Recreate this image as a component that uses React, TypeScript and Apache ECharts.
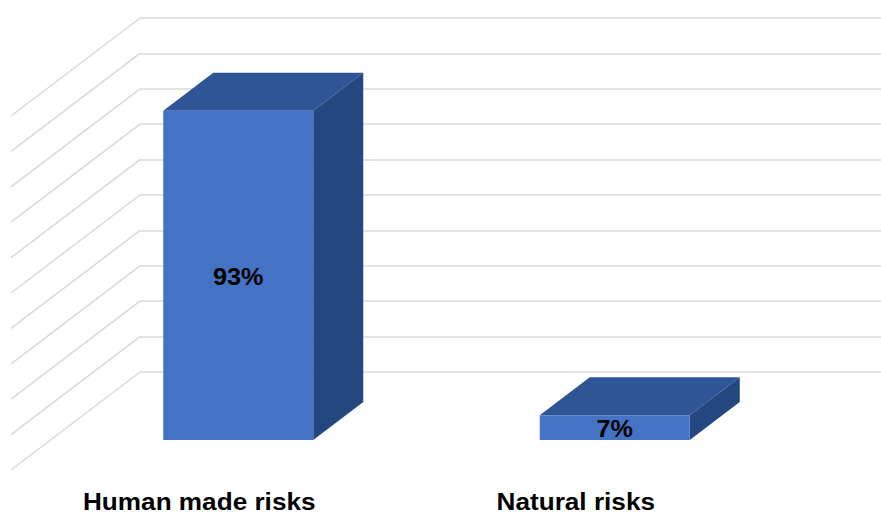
import React, { useEffect, useRef } from "react";
import * as echarts from "echarts";

// Share of risks by origin (percent)
const categories = ["Human made risks", "Natural risks"];
const shares = [93, 7];
const gridTicks = [0, 10, 20, 30, 40, 50, 60, 70, 80, 90, 100];

const FONT = "'Liberation Sans', Arial, sans-serif";
const FRONT = "#4472C4";
const TOP = "#2F5597";
const SIDE = "#25477F";
const GRID_LINE = "#d9d9d9";

// Pseudo-3D projection: bar front plane offset from the back wall,
// bar depth, and the floor's front edge offset.
const BAR_W = 150;
const FRONT_DX = -90;
const FRONT_DY = 68;
const DEPTH_DX = 50;
const DEPTH_DY = -38;
const WALL_DX = -129;
const WALL_DY = 98;

export default function App() {
  const ref = useRef<HTMLDivElement>(null);

  useEffect(() => {
    if (!ref.current) return;
    const chart = echarts.init(ref.current, null, { renderer: "svg" });

    const barItem = (params: any, api: any) => {
      const cat = api.value(0);
      const v = api.value(1);
      const base = api.coord([cat, 0]);
      const topPt = api.coord([cat, v]);
      const x0 = base[0] - BAR_W / 2 + FRONT_DX;
      const x1 = x0 + BAR_W;
      const yb = base[1] + FRONT_DY;
      const yt = topPt[1] + FRONT_DY;
      const label = categories[params.dataIndex];
      return {
        type: "group",
        children: [
          {
            type: "polygon",
            shape: {
              points: [
                [x0, yt],
                [x1, yt],
                [x1 + DEPTH_DX, yt + DEPTH_DY],
                [x0 + DEPTH_DX, yt + DEPTH_DY],
              ],
            },
            style: { fill: TOP },
          },
          {
            type: "polygon",
            shape: {
              points: [
                [x1, yt],
                [x1 + DEPTH_DX, yt + DEPTH_DY],
                [x1 + DEPTH_DX, yb + DEPTH_DY],
                [x1, yb],
              ],
            },
            style: { fill: SIDE },
          },
          {
            type: "rect",
            shape: { x: x0, y: yt, width: BAR_W, height: yb - yt },
            style: { fill: FRONT },
          },
          {
            type: "text",
            x: x0 + BAR_W / 2,
            y: (yt + yb) / 2 + 1,
            scaleX: 1.05,
            style: {
              text: v + "%",
              fill: "#000",
              font: `bold 24px ${FONT}`,
              align: "center",
              verticalAlign: "middle",
            },
          },
          {
            type: "text",
            x: base[0] + WALL_DX,
            y: base[1] + WALL_DY + 31,
            scaleX: 1.09,
            style: {
              text: label,
              fill: "#000",
              font: `bold 24px ${FONT}`,
              align: "center",
              verticalAlign: "middle",
            },
          },
        ],
      };
    };

    const wallItem = (params: any, api: any) => {
      const v = api.value(0);
      const y = api.coord([0, v])[1];
      const x = params.coordSys.x;
      return {
        type: "line",
        shape: { x1: x, y1: y, x2: x + WALL_DX, y2: y + WALL_DY },
        style: { stroke: GRID_LINE, lineWidth: 1.5 },
      };
    };

    chart.setOption({
      animation: false,
      backgroundColor: "#ffffff",
      grid: { left: 140, right: 0, top: 18, bottom: 142 },
      xAxis: {
        type: "category",
        data: categories,
        axisLine: { show: false },
        axisTick: { show: false },
        axisLabel: { show: false },
      },
      yAxis: {
        type: "value",
        min: 0,
        max: 100,
        interval: 10,
        axisLine: { show: false },
        axisTick: { show: false },
        axisLabel: { show: false },
        splitLine: { lineStyle: { color: GRID_LINE, width: 1.5 } },
      },
      series: [
        {
          type: "custom",
          renderItem: wallItem,
          data: gridTicks.map((t) => [t]),
          encode: { y: 0 },
          silent: true,
        },
        {
          type: "custom",
          renderItem: barItem,
          data: shares.map((s, i) => [i, s]),
          encode: { x: 0, y: 1 },
          silent: true,
        },
      ],
    });

    return () => chart.dispose();
  }, []);

  // The back wall runs on past the right edge of the visible frame.
  return (
    <div
      style={{
        position: "fixed",
        left: 0,
        top: 0,
        width: 881,
        height: 514,
        overflow: "hidden",
        background: "#fff",
      }}
    >
      <div ref={ref} style={{ width: 893, height: 514 }} />
    </div>
  );
}
